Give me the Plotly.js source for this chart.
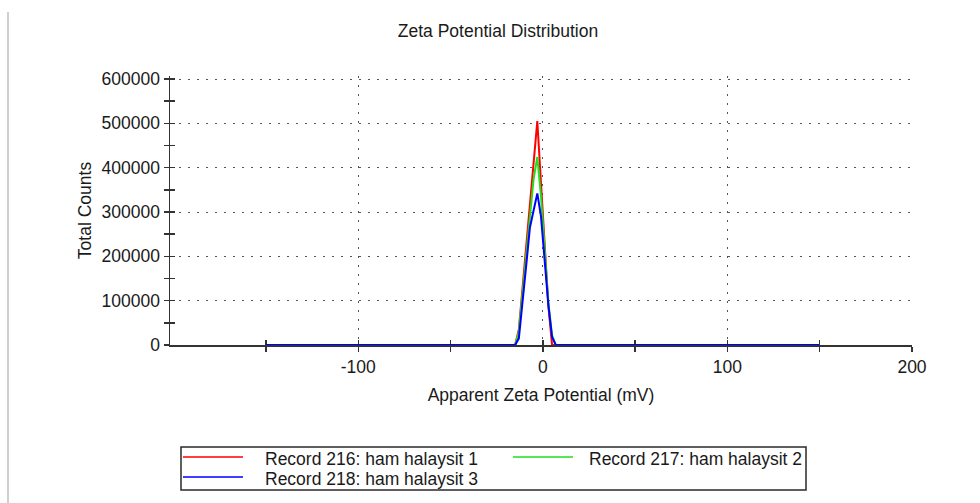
<!DOCTYPE html>
<html>
<head>
<meta charset="utf-8">
<script src="https://cdn.plot.ly/plotly-3.0.1.min.js"></script>
<style>
  html, body { margin: 0; padding: 0; background: #ffffff; }
  #chart { width: 980px; height: 503px; }
</style>
</head>
<body>
<div id="chart"></div>
<script>
// Apparent zeta potential (mV) sample positions shared by all records
const potentialMv = [-150, -15, -13, -11, -9, -7, -5, -3, -1, 1, 3, 5, 7, 9, 150];

// Total counts per record
const record216 = [0, 0, 35000, 130000, 225000, 320000, 410000, 505000, 365000, 225000, 88000, 0, 0, 0, 0];
const record217 = [0, 0, 30000, 120000, 210000, 300000, 375000, 424000, 335000, 215000, 95000, 22000, 0, 0, 0];
const record218 = [0, 0, 15000, 90000, 180000, 265000, 305000, 342000, 290000, 190000, 90000, 18000, 0, 0, 0];

const seriesNames = ['Record 216: ham halaysit 1', 'Record 217: ham halaysit 2', 'Record 218: ham halaysit 3'];
const seriesColors = ['#ff0000', '#1ee01e', '#0000ff'];
const seriesValues = [record216, record217, record218];

const xMajorTicks = [-100, 0, 100, 200];
const xMajorLabels = ['-100', '0', '100', '200'];
const xMinorTicks = [-150, -50, 50, 150];
const yMajorTicks = [0, 100000, 200000, 300000, 400000, 500000, 600000];
const yMinorTicks = [50000, 150000, 250000, 350000, 450000, 550000];

const FONT = '"Liberation Sans", Arial, sans-serif';
const TXT = '#1a1a1a';
const AX = '#333333';
const FS = 17.5;

// plot-area geometry in pixels; the y range runs a little past 600000
// so the top dotted rule stays inside the plot area
const W = 980, H = 503;
const M = { l: 170, r: 68, t: 76, b: 158 };
const PW = W - M.l - M.r, PH = H - M.t - M.b;
const px = x => (x - M.l) / PW;          // page px -> paper x
const py = y => (H - M.b - y) / PH;      // page px -> paper y

const X_RANGE = [-202, 200];
const Y_RANGE = [0, 606800];

const traces = seriesValues.map((vals, i) => ({
  type: 'scatter',
  mode: 'lines',
  x: potentialMv,
  y: vals,
  name: seriesNames[i],
  line: { color: seriesColors[i], width: 2 },
  showlegend: false,
  hoverinfo: 'x+y+name'
}));
// empty trace that brings up the twin axes carrying the inner half of each tick
traces.push({ type: 'scatter', mode: 'lines', x: [], y: [], xaxis: 'x2', yaxis: 'y2', showlegend: false, hoverinfo: 'skip' });

const tickStyle = { ticklen: 5, tickwidth: 1.5, tickcolor: AX };

// boxed legend under the plot: two columns, wrapping to a second row
const legendSlots = [
  { lx0: 183, lx1: 243, ly: 457, tx: 263, ty: 459 },
  { lx0: 513, lx1: 573, ly: 457, tx: 587, ty: 459 },
  { lx0: 183, lx1: 243, ly: 477, tx: 263, ty: 479 }
];

const shapes = [
  // page edge rule on the left
  { type: 'line', xref: 'paper', yref: 'paper', x0: px(8), x1: px(8), y0: py(12), y1: py(503),
    line: { color: '#cfcfcf', width: 2 } },
  // legend frame
  { type: 'rect', xref: 'paper', yref: 'paper', x0: px(181), x1: px(806), y0: py(490), y1: py(447),
    line: { color: '#2a2a2a', width: 1.5 }, fillcolor: 'rgba(0,0,0,0)' }
];
const annotations = [];
legendSlots.forEach((s, i) => {
  shapes.push({ type: 'line', xref: 'paper', yref: 'paper', x0: px(s.lx0), x1: px(s.lx1), y0: py(s.ly), y1: py(s.ly),
    line: { color: seriesColors[i], width: 2 }, opacity: 0.75 });
  annotations.push({ xref: 'paper', yref: 'paper', x: px(s.tx), y: py(s.ty), xanchor: 'left', yanchor: 'middle',
    text: seriesNames[i], showarrow: false, font: { family: FONT, size: FS, color: TXT } });
});

const layout = {
  width: W, height: H,
  margin: M,
  paper_bgcolor: '#ffffff',
  plot_bgcolor: '#ffffff',
  showlegend: false,
  font: { family: FONT, size: FS, color: TXT },
  title: {
    text: 'Zeta Potential Distribution',
    font: { family: FONT, size: FS, color: TXT },
    x: 498 / W, xanchor: 'center',
    y: 1 - 31 / H, yanchor: 'middle'
  },
  xaxis: Object.assign({
    range: X_RANGE,
    tickmode: 'array', tickvals: xMajorTicks, ticktext: xMajorLabels,
    ticks: 'outside',
    showline: true, linecolor: AX, linewidth: 1.5,
    showgrid: true, gridcolor: '#555555', gridwidth: 1, griddash: '2px,7px',
    zeroline: false,
    layer: 'below traces',
    tickfont: { family: FONT, size: FS, color: TXT },
    minor: Object.assign({ tickmode: 'array', tickvals: xMinorTicks, ticks: 'outside', showgrid: false }, tickStyle),
    title: { text: 'Apparent Zeta Potential (mV)', font: { family: FONT, size: FS, color: TXT }, standoff: 13 }
  }, tickStyle),
  xaxis2: Object.assign({
    overlaying: 'x', anchor: 'y2', side: 'bottom',
    range: X_RANGE,
    tickmode: 'array', tickvals: xMajorTicks,
    ticks: 'inside', showticklabels: false,
    showline: false, showgrid: false, zeroline: false,
    layer: 'below traces',
    minor: Object.assign({ tickmode: 'array', tickvals: xMinorTicks, ticks: 'inside', showgrid: false }, tickStyle)
  }, tickStyle),
  yaxis: Object.assign({
    range: Y_RANGE,
    tickmode: 'array', tickvals: yMajorTicks, tickformat: 'd',
    ticks: 'outside',
    showline: true, linecolor: AX, linewidth: 1.5,
    showgrid: true, gridcolor: '#555555', gridwidth: 1, griddash: '2px,7px',
    zeroline: false,
    layer: 'below traces',
    tickfont: { family: FONT, size: FS, color: TXT },
    minor: Object.assign({ tickmode: 'array', tickvals: yMinorTicks, ticks: 'outside', showgrid: false }, tickStyle),
    title: { text: 'Total Counts', font: { family: FONT, size: FS, color: TXT }, standoff: 5 }
  }, tickStyle),
  yaxis2: Object.assign({
    overlaying: 'y', anchor: 'x2', side: 'left',
    range: Y_RANGE,
    tickmode: 'array', tickvals: yMajorTicks,
    ticks: 'inside', showticklabels: false,
    showline: false, showgrid: false, zeroline: false,
    layer: 'below traces',
    minor: Object.assign({ tickmode: 'array', tickvals: yMinorTicks, ticks: 'inside', showgrid: false }, tickStyle)
  }, tickStyle),
  shapes: shapes,
  annotations: annotations
};

Plotly.newPlot('chart', traces, layout, { displayModeBar: false, staticPlot: true });
</script>
</body>
</html>
